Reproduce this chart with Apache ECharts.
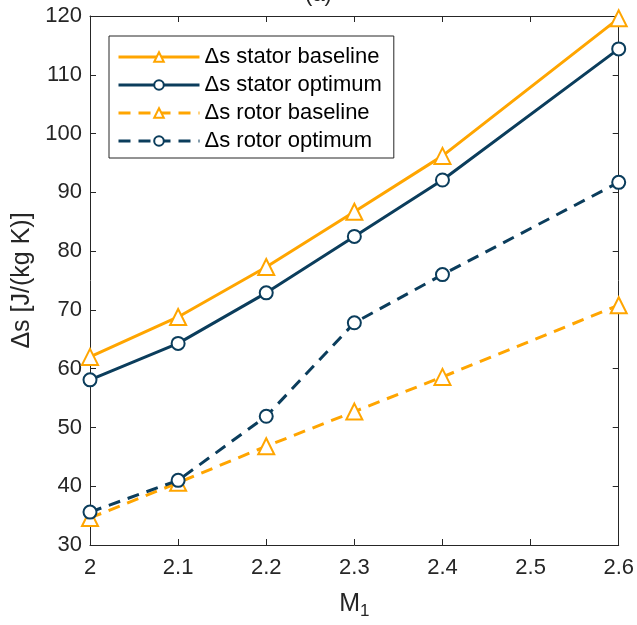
<!DOCTYPE html>
<html><head><meta charset="utf-8">
<script src="https://cdn.jsdelivr.net/npm/echarts@6/dist/echarts.min.js"></script>
<style>html,body{margin:0;padding:0;background:#fff}#c{width:637px;height:625px}</style>
</head><body><div id="c"></div>
<script>
const mach = [2, 2.1, 2.2, 2.3, 2.4, 2.6];
const statorBaseline = [62.0, 68.8, 77.3, 86.7, 96.2, 119.6];
const statorOptimum  = [58.1, 64.3, 72.9, 82.5, 92.1, 114.4];
const rotorBaseline  = [34.6, 40.6, 46.8, 52.7, 58.6, 70.8];
const rotorOptimum   = [35.6, 41.0, 51.9, 67.8, 76.0, 91.7];
const names = ['Δs stator baseline','Δs stator optimum','Δs rotor baseline','Δs rotor optimum'];
const ORANGE = '#FFA500', BLUE = '#0B3D5C';
const FONT = 'Liberation Sans, Arial, sans-serif';
function pairs(v){ return mach.map((x,i)=>[x,v[i]]); }
function mk(name, data, color, dashed, tri){
  return {
    name, type:'line', data: pairs(data),
    symbol: tri ? 'emptyTriangle' : 'emptyCircle',
    symbolSize: tri ? 16 : 13,
    lineStyle:{color, width:3, type: dashed ? [12,8] : 'solid'},
    itemStyle:{color, borderColor:color, borderWidth:3},
    emphasis:{disabled:true}, animation:false, z: tri?2:3
  };
}
const axLine = {lineStyle:{color:'#262626', width:1}};
const chart = echarts.init(document.getElementById('c'), null, {renderer:'canvas'});
chart.setOption({
  backgroundColor:'#fff',
  animation:false,
  title:{text:'(a)', left:'center', top:-21, textStyle:{fontFamily:FONT, fontSize:22, fontWeight:'normal', color:'#262626'}},
  grid:{left:90, right:16, top:16, bottom:80},
  legend:{
    orient:'vertical', left:109, top:36, data:names,
    itemWidth:81, itemHeight:12, itemGap:6,
    padding:[10,12,6,8], borderColor:'#262626', borderWidth:1, backgroundColor:'#fff',
    lineStyle:{width:3},
    textStyle:{fontFamily:FONT, fontSize:22, color:'#000'}
  },
  xAxis:[{
    type:'value', min:2, max:2.6, interval:0.1,
    axisLine:axLine, axisTick:{inside:true, length:6, lineStyle:{color:'#262626'}},
    splitLine:{show:false},
    axisLabel:{fontFamily:FONT, fontSize:22, color:'#262626', margin:12,
      formatter:v=>String(Math.round(v*10)/10)},
    name:'{m|M}{s|1}', nameLocation:'middle', nameGap:44,
    nameTextStyle:{rich:{m:{fontFamily:FONT,fontSize:25,color:'#262626'},s:{fontFamily:FONT,fontSize:17,color:'#262626',verticalAlign:'bottom',padding:[14,0,0,0]}}}
  },{
    type:'value', position:'top', min:2, max:2.6, interval:0.1,
    axisLine:axLine, axisTick:{inside:true, length:6, lineStyle:{color:'#262626'}},
    axisLabel:{show:false}, splitLine:{show:false}
  }],
  yAxis:[{
    type:'value', min:30, max:120, interval:10,
    axisLine:{show:true, ...axLine}, axisTick:{show:true, inside:true, length:6, lineStyle:{color:'#262626'}},
    splitLine:{show:false},
    axisLabel:{fontFamily:FONT, fontSize:22, color:'#262626', margin:8},
    name:'Δs [J/(kg K)]', nameLocation:'middle', nameGap:53,
    nameTextStyle:{fontFamily:FONT, fontSize:25, color:'#262626'}
  },{
    type:'value', position:'right', min:30, max:120, interval:10,
    axisLine:{show:true, ...axLine}, axisTick:{show:true, inside:true, length:6, lineStyle:{color:'#262626'}},
    axisLabel:{show:false}, splitLine:{show:false}
  }],
  series:[
    mk(names[0], statorBaseline, ORANGE, false, true),
    mk(names[1], statorOptimum, BLUE, false, false),
    mk(names[2], rotorBaseline, ORANGE, true, true),
    mk(names[3], rotorOptimum, BLUE, true, false)
  ]
});
</script></body></html>
